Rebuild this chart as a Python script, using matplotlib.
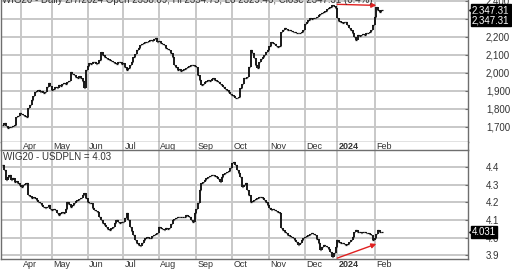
import numpy as np
import pandas as pd
import matplotlib
matplotlib.use("Agg")
import matplotlib.pyplot as plt
import matplotlib.transforms as mtransforms

plt.rcParams['font.family'] = ['Liberation Sans', 'DejaVu Sans']

# --- data -------------------------------------------------------------
start_date = "2023-03-17"
holidays = ["2023-04-07", "2023-04-10", "2023-05-01", "2023-05-03", "2023-06-08",
            "2023-08-15", "2023-11-01", "2023-12-25", "2023-12-26", "2024-01-01"]

wig20 = [
    1709, 1718, 1702, 1693, 1700, 1698, 1705, 1709, 1754, 1762,
    1776, 1770, 1765, 1758, 1754, 1804, 1820, 1848, 1870, 1893,
    1900, 1904, 1895, 1898, 1890, 1893, 1920, 1943, 1925, 1904,
    1912, 1920, 1915, 1931, 1925, 1935, 1943, 1938, 1948, 1952,
    2004, 1995, 1987, 1975, 1970, 1980, 1970, 1955, 1914, 2015,
    2040, 2054, 2050, 2062, 2059, 2048, 2054, 2070, 2115, 2100,
    2087, 2080, 2075, 2071, 2066, 2060, 2054, 2050, 2062, 2059,
    2050, 2054, 2030, 2015, 2028, 2043, 2060, 2087, 2105, 2126,
    2140, 2154, 2160, 2166, 2171, 2168, 2178, 2182, 2175, 2185,
    2193, 2171, 2176, 2165, 2160, 2154, 2140, 2130, 2126, 2110,
    2090, 2043, 2030, 2015, 2022, 2010, 2015, 2018, 2025, 2032,
    2038, 2045, 2043, 2040, 2032, 1987, 1960, 1932, 1940, 1948,
    1952, 1960, 1955, 1965, 1970, 1962, 1955, 1948, 1940, 1932,
    1920, 1910, 1904, 1895, 1884, 1876, 1868, 1859, 1862, 1865,
    1915, 1940, 1970, 1972, 1976, 2032, 2126, 2110, 2082, 2043,
    2026, 2059, 2075, 2090, 2098, 2115, 2126, 2150, 2171, 2165,
    2160, 2150, 2143, 2150, 2226, 2240, 2248, 2242, 2240, 2237,
    2232, 2228, 2226, 2222, 2218, 2220, 2228, 2237, 2270, 2282,
    2295, 2304, 2300, 2306, 2304, 2312, 2320, 2325, 2330, 2337,
    2345, 2352, 2359, 2366, 2376, 2368, 2359, 2304, 2290, 2282,
    2276, 2280, 2282, 2265, 2248, 2235, 2220, 2200, 2182, 2210,
    2205, 2210, 2215, 2212, 2220, 2218, 2226, 2240, 2265, 2310,
    2365, 2348, 2337, 2347.31,
]

usdpln = [
    4.411, 4.383, 4.327, 4.345, 4.355, 4.327, 4.335, 4.317, 4.320, 4.308,
    4.298, 4.289, 4.298, 4.305, 4.308, 4.242, 4.235, 4.223, 4.230, 4.223,
    4.215, 4.204, 4.195, 4.185, 4.176, 4.167, 4.176, 4.185, 4.165, 4.157,
    4.160, 4.157, 4.140, 4.129, 4.138, 4.148, 4.138, 4.160, 4.204, 4.190,
    4.176, 4.185, 4.195, 4.205, 4.214, 4.218, 4.223, 4.240, 4.251, 4.225,
    4.204, 4.198, 4.195, 4.170, 4.157, 4.150, 4.148, 4.119, 4.100, 4.082,
    4.070, 4.063, 4.050, 4.044, 4.055, 4.063, 4.085, 4.101, 4.090, 4.082,
    4.088, 4.091, 4.110, 4.138, 4.100, 4.063, 4.040, 4.016, 3.990, 3.969,
    3.960, 3.954, 3.970, 3.988, 3.998, 4.006, 3.997, 3.997, 4.010, 4.016,
    4.020, 4.025, 4.063, 4.055, 4.048, 4.044, 4.054, 4.050, 4.054, 4.080,
    4.101, 4.105, 4.110, 4.115, 4.119, 4.117, 4.115, 4.120, 4.129, 4.125,
    4.119, 4.100, 4.091, 4.138, 4.165, 4.195, 4.270, 4.308, 4.317, 4.327,
    4.335, 4.345, 4.350, 4.352, 4.355, 4.350, 4.345, 4.330, 4.317, 4.345,
    4.358, 4.365, 4.373, 4.380, 4.393, 4.421, 4.430, 4.410, 4.383, 4.365,
    4.345, 4.289, 4.300, 4.308, 4.270, 4.242, 4.204, 4.210, 4.214, 4.218,
    4.223, 4.228, 4.232, 4.225, 4.214, 4.200, 4.185, 4.170, 4.157, 4.160,
    4.157, 4.152, 4.148, 4.140, 4.054, 4.045, 4.034, 4.025, 4.016, 4.010,
    4.006, 3.998, 3.988, 3.975, 3.959, 3.970, 3.988, 3.998, 4.006, 4.010,
    4.016, 4.020, 4.025, 4.020, 4.016, 3.995, 3.969, 3.931, 3.945, 3.959,
    3.955, 3.950, 3.935, 3.921, 3.893, 3.912, 3.950, 3.988, 3.978, 3.972,
    3.969, 3.964, 3.959, 3.965, 3.978, 3.990, 4.006, 4.030, 4.044, 4.034,
    4.030, 4.025, 4.030, 4.034, 4.028, 4.025, 4.020, 4.016, 3.988, 4.000,
    4.020, 4.044, 4.034, 4.031,
]

top_title = "WIG20 - Daily 2/7/2024 Open 2338.09, Hi 2354.75, Lo 2329.46, Close 2347.31 (0.4%)"
bottom_title = "WIG20 - USDPLN = 4.03"
top_yticks = [1700, 1800, 1900, 2000, 2100, 2200, 2300, 2400]
bottom_yticks = [3.9, 4.0, 4.1, 4.2, 4.3, 4.4]
# arrows: (start date, start value, end date, end value)
top_arrow = ("2024-01-02", 2380, "2024-02-02", 2374)
bottom_arrow = ("2024-01-02", 3.885, "2024-02-02", 3.965)

# --- layout -----------------------------------------------------------
dates = pd.bdate_range(start_date, periods=len(wig20), freq="C", holidays=holidays)
x = np.arange(len(dates))
months = pd.Series(dates.month)
month_pos = list(x[(months != months.shift()).values][1:])
month_lbl = ["2024" if dates[i].month == 1 else dates[i].strftime("%b") for i in month_pos]


def pos_of(day):
    return int(dates.get_indexer([pd.Timestamp(day)], method="nearest")[0])


W, H = 512, 270
fig = plt.figure(figsize=(W / 100, H / 100), dpi=100)
fig.patch.set_facecolor("white")
ax1 = fig.add_axes([1 / W, 1 - 142 / H, 467 / W, 142 / H])
strip = fig.add_axes([1 / W, 1 - 150 / H, 467 / W, 8 / H])
ax2 = fig.add_axes([1 / W, 11 / H, 467 / W, 109 / H])

grid_c = "#c8c8c8"
spine_c = "#6e6e6e"
txt_c = "#333333"
xlim = (-1, 274)


def draw_bars(ax, vals):
    v = np.asarray(vals, dtype=float)
    prev = np.r_[v[0], v[:-1]]
    ax.vlines(x, np.minimum(prev, v), np.maximum(prev, v), color="#111111", lw=1.35)
    ax.hlines(v, x - 0.3, x + 0.7, color="#111111", lw=0.9)


for ax in (ax1, ax2, strip):
    ax.set_xlim(*xlim)
    ax.set_xticks(month_pos)
    ax.tick_params(axis="x", length=0, labelbottom=False)
    ax.grid(axis="x", color=grid_c, lw=1.4)
    ax.set_axisbelow(True)
    for s in ax.spines.values():
        s.set_color(spine_c)
        s.set_linewidth(1.0)
    ax.spines["top"].set_visible(False)

# top panel
draw_bars(ax1, wig20)
ax1.set_ylim(1615, 2404)
ax1.yaxis.tick_right()
ax1.set_yticks(top_yticks)
ax1.set_yticklabels([f"{t:,}" for t in top_yticks])
ax1.tick_params(axis="y", direction="in", length=2, pad=13, labelsize=7,
                colors=spine_c, labelcolor=txt_c)
ax1.grid(axis="y", color=grid_c, lw=1.4)

# strip with the month names of the top panel
strip.set_ylim(0, 1)
strip.set_yticks([])
strip.spines["bottom"].set_visible(False)
for xm, lab in zip(month_pos, month_lbl):
    strip.text(xm + 0.8, 0.45, lab, fontsize=6.5, color=txt_c, va="center", ha="left",
               fontweight="bold" if lab == "2024" else "normal")

# bottom panel
draw_bars(ax2, usdpln)
ax2.set_ylim(3.880, 4.496)
ax2.yaxis.tick_right()
ax2.set_yticks(bottom_yticks)
ax2.set_yticklabels([f"{t:.1f}" for t in bottom_yticks])
ax2.tick_params(axis="y", direction="in", length=2, pad=13, labelsize=7,
                colors=spine_c, labelcolor=txt_c)
ax2.grid(axis="y", color=grid_c, lw=1.4)
ax2.spines["top"].set_visible(True)
for xm, lab in zip(month_pos, month_lbl):
    ax2.text(xm + 0.8, -0.055, lab, transform=mtransforms.blended_transform_factory(ax2.transData, ax2.transAxes),
             fontsize=6.5, color=txt_c, va="center", ha="left", clip_on=False,
             fontweight="bold" if lab == "2024" else "normal")

# titles
fig.text(2 / W, 1.0, top_title, fontsize=7, color=txt_c, va="center", ha="left")
ax2.text(0.005, 0.94, bottom_title, transform=ax2.transAxes, fontsize=7,
         color=txt_c, va="center", ha="left")

# red arrows
for ax, (d0, v0, d1, v1) in ((ax1, top_arrow), (ax2, bottom_arrow)):
    ax.annotate("", xy=(pos_of(d1), v1), xytext=(pos_of(d0), v0),
                arrowprops=dict(arrowstyle="-|>", color="#e02020", lw=1.0,
                                mutation_scale=7, shrinkA=0, shrinkB=0))

# last value boxes
def value_box(ax, val, text, dy_px=0, arrow=True):
    tr = mtransforms.blended_transform_factory(ax.transAxes, ax.transData)
    off = mtransforms.offset_copy(tr, fig=fig, x=0, y=-dy_px, units="dots")
    ax.text(1.0 + 4 / 467, val, text, transform=off, fontsize=7, color="white",
            va="center", ha="left", clip_on=False,
            bbox=dict(boxstyle="square,pad=0.12", fc="black", ec="black"))
    if arrow:
        ax.plot([1.0 + 4 / 467], [val], marker="<", ms=4, color="black",
                transform=tr, clip_on=False)


value_box(ax1, wig20[-1], f"{wig20[-1]:,.2f}")
value_box(ax1, wig20[-1], f"{wig20[-1]:,.2f}", dy_px=10, arrow=False)
value_box(ax2, usdpln[-1], f"{usdpln[-1]:.3f}")

fig.savefig("out.png", dpi=100, facecolor="white")
